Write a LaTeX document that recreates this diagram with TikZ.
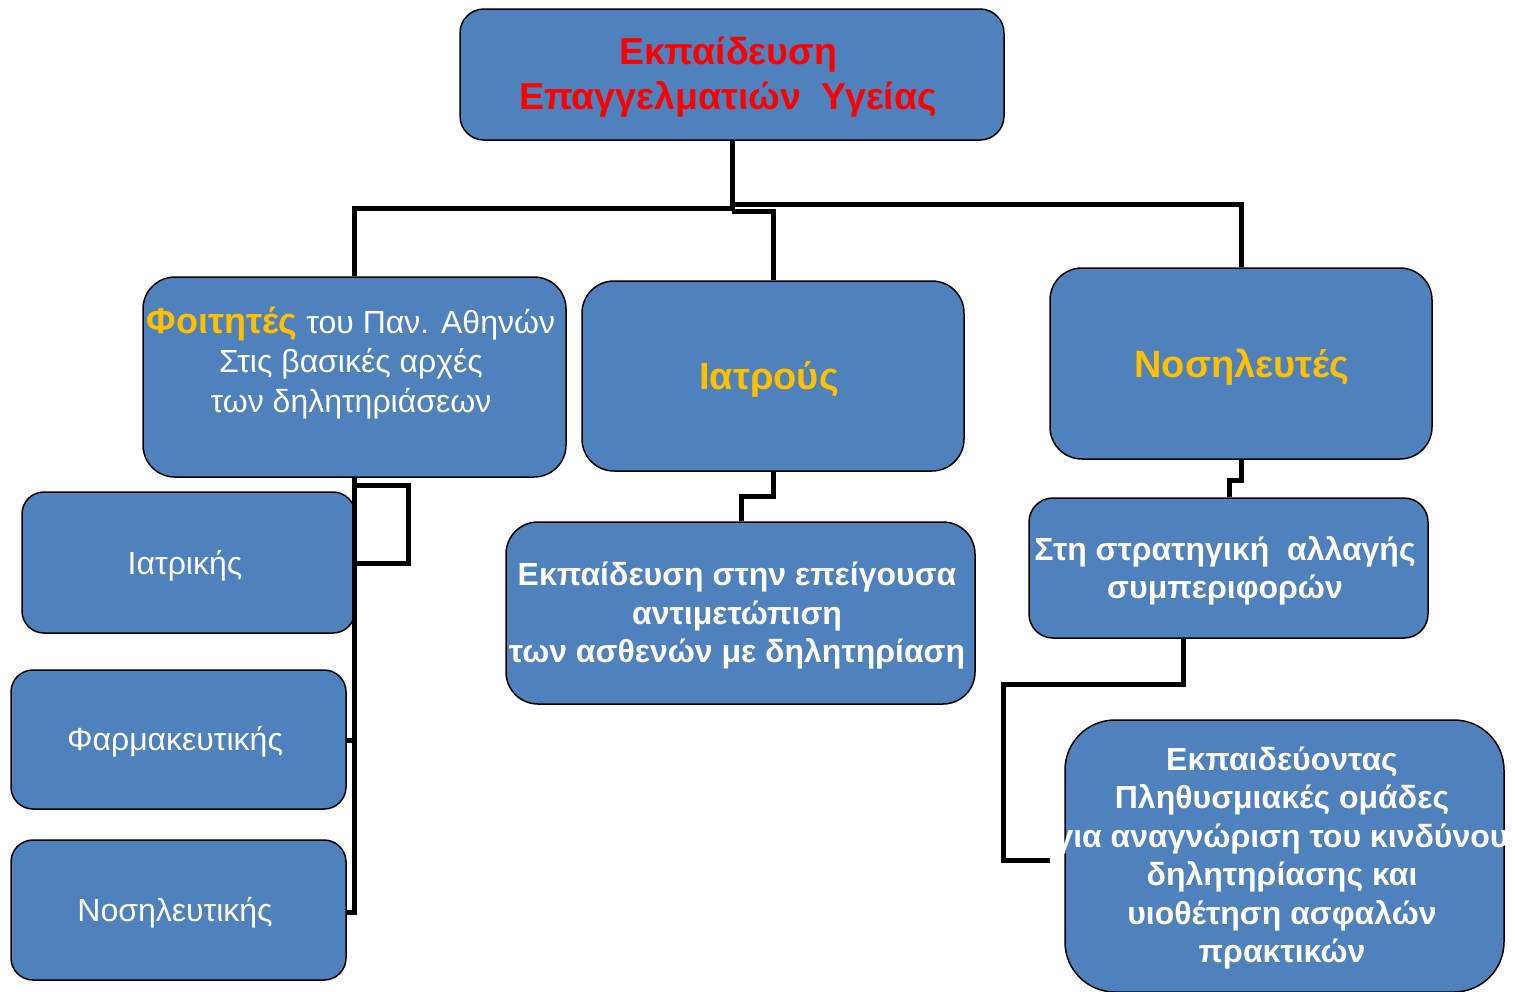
\documentclass[tikz,border=0pt]{standalone}
\usepackage{fontspec}
\setmainfont{Liberation Sans}
\definecolor{boxblue}{HTML}{4F81BD}
\definecolor{gold}{HTML}{FFC000}
\definecolor{titlered}{HTML}{FF0000}
\begin{document}
\begin{tikzpicture}[x=1pt,y=-1pt,
  box/.style={draw=black, line width=1.5pt, fill=boxblue, rounded corners=#1, inner sep=0pt},
  box/.default=28pt,
  txt/.style={align=center, inner sep=0pt, text=white, font=\fontsize{32}{39.5}\selectfont},
  btxt/.style={txt, font=\fontsize{32}{38.5}\selectfont\bfseries},
  conn/.style={draw=black, line width=5pt}]
\useasboundingbox (0,0) rectangle (1518,991);
% boxes
\node[box=24pt, minimum width=544pt, minimum height=131pt] (top) at (732,74.5) {};
\node[box=32pt, minimum width=423pt, minimum height=200pt] (stud) at (354.5,377) {};
\node[box=32pt, minimum width=382pt, minimum height=190pt] (doc) at (773,376) {};
\node[box=32pt, minimum width=382pt, minimum height=191pt] (nurse) at (1241,363.5) {};
\node[box=22pt, minimum width=333pt, minimum height=141pt] (med) at (188.5,562.5) {};
\node[box=22pt, minimum width=335pt, minimum height=139pt] (pharm) at (178.5,739.5) {};
\node[box=22pt, minimum width=335pt, minimum height=140pt] (nursing) at (178.5,910) {};
\node[box=32pt, minimum width=469pt, minimum height=182pt] (emerg) at (740.5,613) {};
\node[box=24pt, minimum width=399pt, minimum height=140pt] (strat) at (1228.5,568) {};
\node[box=50pt, minimum width=439pt, minimum height=272pt] (pop) at (1284.5,856) {};
% texts
\node[txt, text=titlered, font=\fontsize{37.5}{45}\selectfont\bfseries] (toptxt) at (728,77) {Εκπαίδευση\\Επαγγελματιών\ \ Υγείας};
\node[txt] (studtxt) at (351,363) {{\fontsize{36}{39.5}\selectfont\bfseries\color{gold}Φοιτητές} του Παν. Αθηνών\\Στις βασικές αρχές\\των δηλητηριάσεων};
\node[txt, text=gold, font=\fontsize{38}{40}\selectfont\bfseries] (doctxt) at (769,379) {Ιατρούς};
\node[txt, text=gold, font=\fontsize{38}{40}\selectfont\bfseries] (nursetxt) at (1242,367) {Νοσηλευτές};
\node[txt] (medtxt) at (185,566) {Ιατρικής};
\node[txt] (pharmtxt) at (175,742) {Φαρμακευτικής};
\node[txt] (nursingtxt) at (175,913) {Νοσηλευτικής};
\node[btxt] (emergtxt) at (737,616) {Εκπαίδευση στην επείγουσα\\αντιμετώπιση\\των ασθενών με δηλητηρίαση};
\node[btxt] (strattxt) at (1225,571) {Στη στρατηγική\ \ αλλαγής\\συμπεριφορών};
\node[btxt] (poptxt) at (1282,858) {Εκπαιδεύοντας\\Πληθυσμιακές ομάδες\\για αναγνώριση του κινδύνου\\δηλητηρίασης και\\υιοθέτηση ασφαλών\\πρακτικών};
% connectors
\coordinate (hub) at (732,210);
\draw[conn] (top.south -| hub) -- (hub);
\draw[conn] (732,208) -- (354,208) -- (stud.north -| 354,0);
\draw[conn] (732,204) -- (1241,204) -- (nurse.north);
\draw[conn] (732,211) -- (773,211) -- (doc.north);
\draw[conn] (doc.south) -- (773,496) -- (741,496) -- (emerg.north -| 741,0);
\draw[conn] (nurse.south) -- (1241,480) -- (1229,480) -- (strat.north -| 1229,0);
\coordinate (popend) at (1050,860);
\draw[conn] (strat.south -| 1183,0) -- (1183,684) -- (1003,684) -- (1003,860) -- (popend);
\draw[conn] (stud.south -| 354,0) -- (354,912) -- (nursing.east |- 0,912);
\draw[conn] (354,485) -- (408,485) -- (408,563) -- (med.east |- 0,563);
\draw[conn] (354,740) -- (pharm.east |- 0,740);
\end{tikzpicture}
\end{document}
